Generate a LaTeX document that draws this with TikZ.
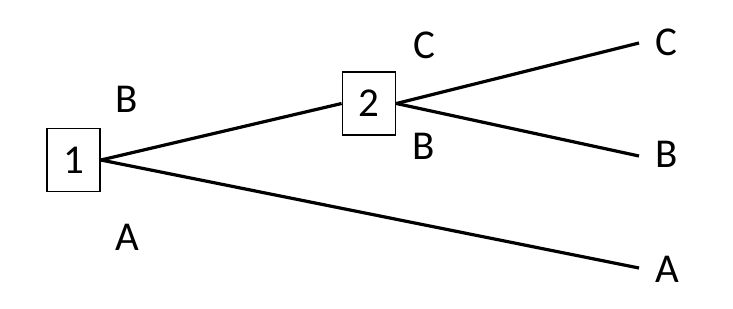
\documentclass[tikz,border=0pt]{standalone}
\usepackage{fontspec}
\setmainfont{Carlito}
\begin{document}
\begin{tikzpicture}[x=1pt,y=-1pt,
  decbox/.style={draw,line width=1.8pt,minimum width=53pt,minimum height=63pt,inner sep=0pt,font=\fontsize{41}{48}\selectfont},
  lbl/.style={inner sep=0pt,text depth=0pt,font=\fontsize{41}{48}\selectfont},
  branch/.style={line width=3.2pt}]
\useasboundingbox (0,0) rectangle (733,308);
\node[decbox] (d1) at (73.5,160) {1};
\node[decbox] (d2) at (369,103.5) {2};
\coordinate (eC) at (639,43);
\coordinate (eB) at (639,156);
\coordinate (eA) at (639,268);
\draw[branch] (d1.east) -- (d2.west);
\draw[branch] (d1.east) -- (eA);
\draw[branch] (d2.east) -- (eC);
\draw[branch] (d2.east) -- (eB);
\node[lbl] (lB1) at (127,99) {B};
\node[lbl] (lA1) at (127,237) {A};
\node[lbl] (lC2) at (424,45) {C};
\node[lbl] (lB2) at (424,146) {B};
\node[lbl] (lC3) at (666,42) {C};
\node[lbl] (lB3) at (667,154) {B};
\node[lbl] (lA3) at (667,269) {A};
\end{tikzpicture}
\end{document}
